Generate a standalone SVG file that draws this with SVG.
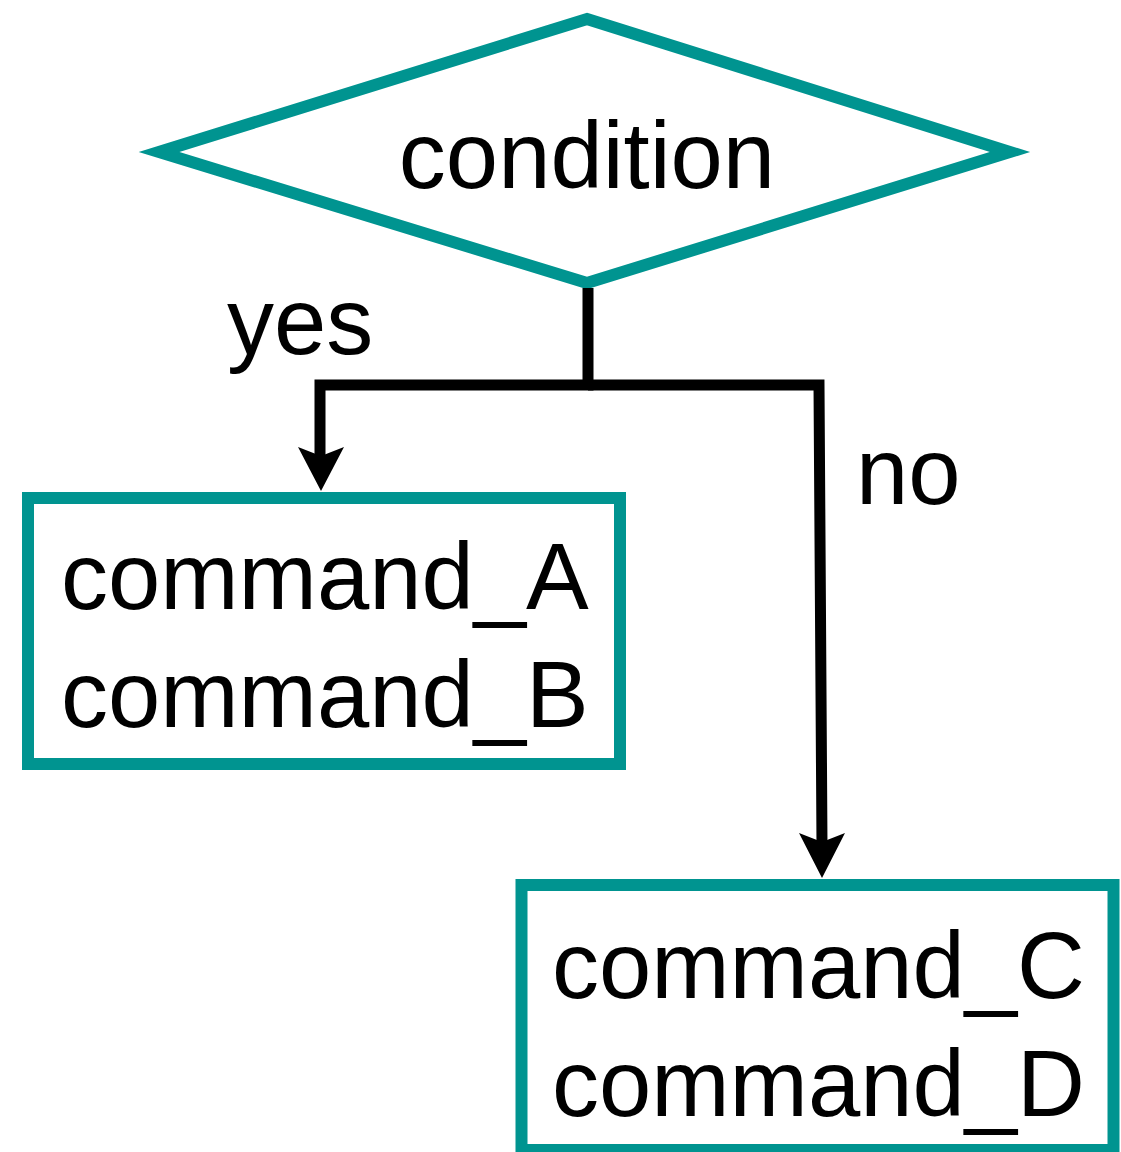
<svg xmlns="http://www.w3.org/2000/svg" width="1121" height="1152" viewBox="0 0 1121 1152">
  <style>
    .shape { fill: #ffffff; stroke: #009490; stroke-width: 12; }
    .lbl { font-family: "Liberation Sans", Arial, sans-serif; font-size: 94px; fill: #000000; }
    .conn { fill: none; stroke: #000000; stroke-width: 11; stroke-linejoin: miter; }
  </style>
  <rect width="1121" height="1152" fill="#ffffff"/>

  <g id="condition">
    <polygon class="shape" points="587,19 1010,152 587,283 159,152"/>
    <text class="lbl" x="587" y="188" text-anchor="middle">condition</text>
  </g>

  <g id="box-ab">
    <rect class="shape" x="28" y="498" width="592" height="266"/>
    <text class="lbl" x="61" y="609">command_A</text>
    <text class="lbl" x="61" y="727">command_B</text>
  </g>

  <g id="box-cd">
    <rect class="shape" x="521.5" y="885" width="592" height="265"/>
    <text class="lbl" x="552" y="998">command_C</text>
    <text class="lbl" x="552" y="1116">command_D</text>
  </g>

  <g id="connectors">
    <polyline class="conn" points="588,288 588,385 320,385 320,460"/>
    <polyline class="conn" points="588,385 819,385 822,845"/>
    <path d="M321,491 L298,447 L321,456 L344,447 Z" fill="#000000"/>
    <path d="M822,878 L799,833 L822,842 L845,833 Z" fill="#000000"/>
    <text class="lbl" x="227" y="354">yes</text>
    <text class="lbl" x="856" y="504">no</text>
  </g>
</svg>
